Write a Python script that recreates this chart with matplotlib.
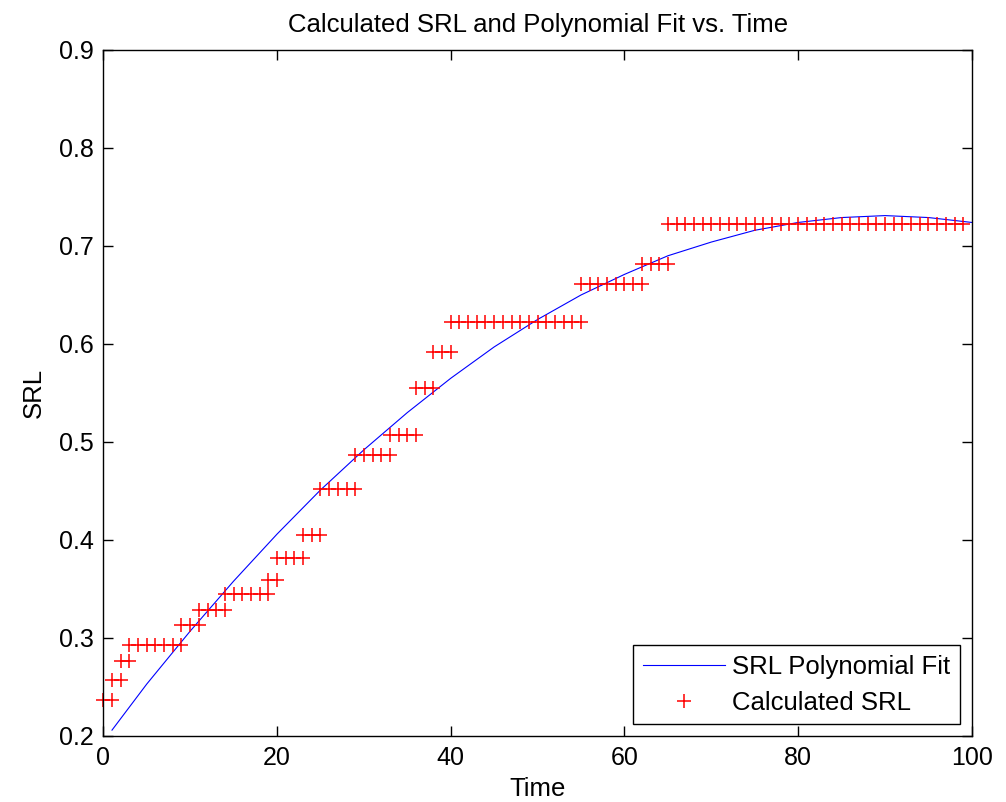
import matplotlib
matplotlib.use("Agg")
import matplotlib.pyplot as plt

# calculated SRL samples (staircase)
time_pts = [0, 1, 1, 2, 2, 3, 3, 4, 5, 6, 7, 8, 9, 9, 10, 11, 11, 12, 13, 14,
            14, 15, 16, 17, 18, 19, 19, 20, 20, 21, 22, 23, 23, 24, 25, 25, 26,
            27, 28, 29, 29, 30, 31, 32, 33, 33, 34, 35, 36, 36, 37, 38, 38, 39,
            40, 40, 41, 42, 43, 44, 45, 46, 47, 48, 49, 50, 51, 52, 53, 54, 55,
            55, 56, 57, 58, 59, 60, 61, 62, 62, 63, 64, 65,
            65, 66, 67, 68, 69, 70, 71, 72, 73, 74, 75, 76, 77, 78, 79, 80, 81,
            82, 83, 84, 85, 86, 87, 88, 89, 90, 91, 92, 93, 94, 95, 96, 97, 98, 99]
srl_pts = ([0.237] * 2 + [0.257] * 2 + [0.277] * 2 + [0.293] * 7 + [0.313] * 3
           + [0.329] * 4 + [0.345] * 6 + [0.359] * 2 + [0.382] * 4 + [0.405] * 3
           + [0.452] * 5 + [0.487] * 5 + [0.507] * 4 + [0.555] * 3 + [0.592] * 3
           + [0.622] * 16 + [0.661] * 8 + [0.682] * 4 + [0.722] * 35)

# polynomial fit curve
fit_t = [1, 5, 10, 15, 20, 25, 30, 35, 40, 45, 50, 55, 60, 65, 70, 75, 80, 85, 90, 95, 100]
fit_srl = [0.206, 0.253, 0.307, 0.358, 0.406, 0.451, 0.492, 0.530, 0.565, 0.597,
           0.625, 0.650, 0.671, 0.690, 0.704, 0.716, 0.724, 0.729, 0.731, 0.729, 0.724]

plt.rcParams["font.family"] = ["Liberation Sans", "DejaVu Sans"]
FS = 18.5

fig = plt.figure(figsize=(10.06, 8.02), dpi=100)
ax = fig.add_axes([0.1027, 0.0823, 0.8634, 0.8554])

ax.plot(fit_t, fit_srl, color="#0000ff", linewidth=0.8, label="SRL Polynomial Fit")
ax.plot(time_pts, srl_pts, linestyle="none", marker="+", markersize=10.5,
        markeredgewidth=1.1, color="#ff0000", label="Calculated SRL", clip_on=False)

ax.set_xlim(0, 100)
ax.set_ylim(0.2, 0.9)
ax.set_xticks([0, 20, 40, 60, 80, 100])
ax.set_yticks([0.2, 0.3, 0.4, 0.5, 0.6, 0.7, 0.8, 0.9])
ax.set_yticklabels(["0.2", "0.3", "0.4", "0.5", "0.6", "0.7", "0.8", "0.9"])

ax.tick_params(direction="in", length=7.5, width=1.0, top=True, right=True,
               labelsize=18, colors="black")
ax.tick_params(axis="x", pad=7)
ax.tick_params(axis="y", pad=7)
for sp in ax.spines.values():
    sp.set_linewidth(1.0)
    sp.set_color("black")

ax.set_xlabel("Time", fontsize=FS, labelpad=5)
ax.set_ylabel("SRL", fontsize=FS, labelpad=9)
ax.set_title("Calculated SRL and Polynomial Fit vs. Time", fontsize=FS, pad=13)

leg = ax.legend(loc="lower right", fontsize=FS, frameon=True, fancybox=False,
                edgecolor="black", framealpha=1, handlelength=3.2,
                handletextpad=0.3, borderaxespad=0.45, borderpad=0.38,
                labelspacing=0.45)
leg.get_frame().set_linewidth(1.0)

fig.savefig("out.png", dpi=100)
